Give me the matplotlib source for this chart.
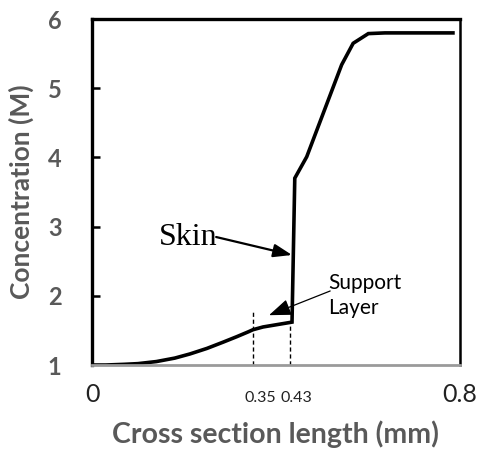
import numpy as np
import matplotlib
matplotlib.use("Agg")
import matplotlib.pyplot as plt

# concentration profile
x_mm = [0.0, 0.03, 0.07, 0.10, 0.14, 0.18, 0.213, 0.25, 0.285, 0.315,
        0.34, 0.35, 0.372, 0.435, 0.441, 0.467, 0.543, 0.568, 0.601,
        0.637, 0.785]
conc = [1.0, 1.0, 1.01, 1.02, 1.05, 1.10, 1.16, 1.24, 1.33, 1.41,
        1.48, 1.51, 1.55, 1.62, 3.70, 4.01, 5.34, 5.65, 5.79,
        5.80, 5.80]

skin_edge = 0.35
support_edge = 0.43
xticks = [0, 0.8]
xtick_labels = ["0", "0.8"]
yticks = [1, 2, 3, 4, 5, 6]

GREY = "#595959"

fig = plt.figure(figsize=(4.78, 4.54), dpi=100)
ax = fig.add_axes([0.1925, 0.196, 0.7695, 0.762])

ax.plot(x_mm, conc, color="black", lw=2.6, solid_joinstyle="miter")

# dashed markers for the layer boundaries
ax.plot([skin_edge, skin_edge], [1.0, 1.77], color="black", lw=1.0, ls=(0, (3, 2)))
ax.plot([support_edge, support_edge], [1.0, 1.60], color="black", lw=1.0, ls=(0, (3, 2)))
for edge in (skin_edge, support_edge):
    ax.annotate(f"{edge:.2f}", xy=(edge, 0), xycoords=ax.get_xaxis_transform(),
                xytext=(5, -19), textcoords="offset points", ha="center", va="top",
                family="Lato", fontsize=11.5, color="#222222")

ax.set_xlim(0, 0.8)
ax.set_ylim(1, 6)

ax.set_xticks(xticks)
ax.set_xticklabels(xtick_labels, family="Lato", fontsize=18, color="#222222")
ax.tick_params(axis="x", length=0, pad=13)

ax.set_yticks(yticks)
ax.set_yticklabels([str(v) for v in yticks], family="Lato", fontweight="bold",
                   fontsize=17, color=GREY)
ax.tick_params(axis="y", direction="in", length=6, width=1.8, pad=22)
ax.yaxis.get_major_ticks()[0].tick1line.set_visible(False)
ax.yaxis.get_major_ticks()[-1].tick1line.set_visible(False)

for side in ("left", "top"):
    ax.spines[side].set_linewidth(2.4)
ax.spines["right"].set_linewidth(1.8)
ax.spines["bottom"].set_linewidth(2.0)
ax.spines["bottom"].set_color("#9a9a9a")

ax.set_xlabel("Cross section length (mm)", family="Lato", fontweight="bold",
              fontsize=20.5, color=GREY, labelpad=10)
ax.set_ylabel("Concentration (M)", family="Lato", fontweight="bold",
              fontsize=19, color=GREY, labelpad=10)

# annotations: text and arrows drawn separately
ax.text(0.272, 2.84, "Skin", family="Liberation Serif", fontsize=23,
        ha="right", va="center")
ax.annotate("", xy=(0.435, 2.59), xytext=(0.27, 2.85),
            arrowprops=dict(arrowstyle="-|>,head_length=0.7,head_width=0.25",
                            mutation_scale=16, color="black", lw=1.6,
                            shrinkA=0, shrinkB=0))
ax.text(0.513, 2.0, "Support\nLayer", family="Lato", fontsize=15,
        ha="left", va="center", linespacing=1.3)
ax.annotate("", xy=(0.385, 1.72), xytext=(0.518, 2.07),
            arrowprops=dict(arrowstyle="-|>,head_length=0.8,head_width=0.3",
                            mutation_scale=17, color="black", lw=0.9,
                            shrinkA=0, shrinkB=0))

fig.savefig("out.png", dpi=100)
